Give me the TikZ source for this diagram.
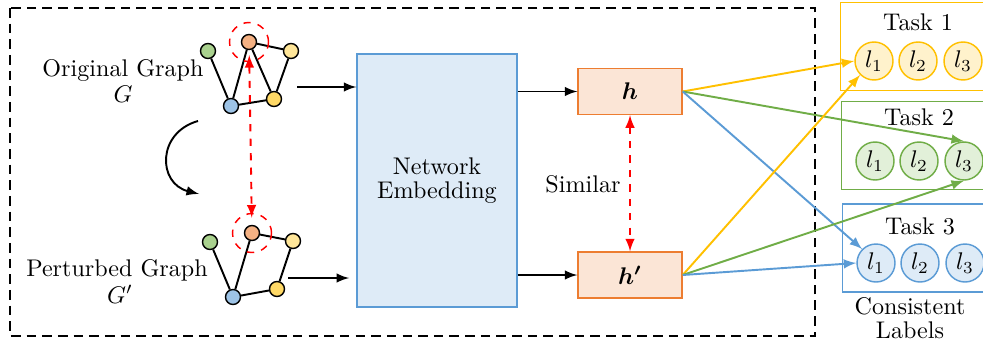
\documentclass[tikz,border=0pt]{standalone}
\usepackage{tikz}
\pgfdeclarelayer{background}
\pgfsetlayers{background,main}
\usetikzlibrary{arrows,positioning}
\usepackage{bm}
\usepackage{amsmath}
\definecolor{vGreen}{HTML}{A9D18E}
\definecolor{vOrange}{HTML}{F4B183}
\definecolor{vLight}{HTML}{FFE699}
\definecolor{vBlue}{HTML}{9DC3E6}
\definecolor{vYellow}{HTML}{FFD966}
\definecolor{embDraw}{HTML}{5B9BD5}
\definecolor{embFill}{HTML}{DEEBF7}
\definecolor{hDraw}{HTML}{ED7D31}
\definecolor{hFill}{HTML}{FBE5D6}
\definecolor{tYellow}{HTML}{FFC000}
\definecolor{tYellowFill}{HTML}{FFF2CC}
\definecolor{tGreen}{HTML}{70AD47}
\definecolor{tGreenFill}{HTML}{E2F0D9}
\definecolor{tBlue}{HTML}{5B9BD5}
\definecolor{tBlueFill}{HTML}{DEEBF7}
\newcommand{\pix}{0.415pt}
\newcommand{\Vertex}[3]% pos, name, colour
{\node[circle,draw,semithick,fill=#3,minimum size=15*\pix,inner sep=0] (#2) at (#1) {};
}
\newcommand{\Edge}[2]%
{ \begin{pgfonlayer}{background}
    \draw[thick] (#1) -- (#2);
  \end{pgfonlayer}}
\newcommand{\Label}[5]% pos, name, text, draw, fill
{\node[circle,draw=#4,fill=#5,semithick,minimum size=38*\pix,inner sep=0] (#2) at (#1) {$#3$};
}
\newcommand{\Arrow}[3]%
{ \draw[-latex,thick,#3] (#1) -- (#2);}
\tikzset{
  perturb/.style={circle,draw=red,dashed,semithick,minimum size=39*\pix,inner sep=0},
  taskbox/.style={draw=#1,semithick,minimum width=155*\pix,minimum height=88*\pix,inner sep=0},
  hbox/.style={draw=hDraw,fill=hFill,semithick,minimum width=104*\pix,minimum height=46*\pix},
  caption/.style={inner sep=1pt}
}

\begin{document}
\begin{tikzpicture}[x=\pix,y=-\pix]
  \useasboundingbox (0,0) rectangle (983,346);
  \draw[semithick,dash pattern=on 4pt off 2.5pt] (10,8) rectangle (815,336);
  % original graph
  \Vertex{208,51}{oA}{vGreen}
  \Vertex{249,42}{oO}{vOrange}
  \Vertex{291,51}{oL}{vLight}
  \Vertex{231,106}{oB}{vBlue}
  \Vertex{274,99}{oY}{vYellow}
  \Edge{oA}{oB}
  \Edge{oB}{oO}
  \Edge{oO}{oL}
  \Edge{oO}{oY}
  \Edge{oL}{oY}
  \Edge{oB}{oY}
  \node[perturb] (oR) at (oO) {};
  \node[caption] (oName) at (123,70) {Original Graph};
  \node[caption] (oSym) at (123,94) {$G$};
  % perturbed graph
  \Vertex{210,242}{pA}{vGreen}
  \Vertex{252,233}{pO}{vOrange}
  \Vertex{293,241}{pL}{vLight}
  \Vertex{233,297}{pB}{vBlue}
  \Vertex{277,289}{pY}{vYellow}
  \Edge{pA}{pB}
  \Edge{pB}{pO}
  \Edge{pO}{pL}
  \Edge{pL}{pY}
  \Edge{pB}{pY}
  \node[perturb] (pR) at (pO) {};
  \node[caption] (pName) at (117,270) {Perturbed Graph};
  \node[caption] (pSym) at (120,294) {$G'$};
  \draw[latex-latex,red,dashed,thick,shorten <=2pt,shorten >=3pt] (oO) -- (pO);
  \coordinate (bendA) at (198,121);
  \coordinate (bendB) at (199,194);
  \draw[-latex,thick] (bendA) to[bend right=75,looseness=1.5] (bendB);
  % embedding
  \node[draw=embDraw,fill=embFill,semithick,minimum width=160*\pix,minimum height=253*\pix,align=center]
    (emb) at (437,180.5) {Network\\[-2pt]Embedding};
  \coordinate (oOut) at (297,87);
  \coordinate (pOut) at (288,278);
  \Arrow{oOut}{oOut -| emb.west}{black}
  \draw[-latex,thick,shorten >=3pt] (pOut) -- (pOut -| emb.west);
  \node[hbox] (h) at (630,91.5) {$\bm{h}$};
  \node[hbox] (hp) at (630,275) {$\bm{h'}$};
  \Arrow{h.west -| emb.east}{h.west}{black}
  \Arrow{hp.west -| emb.east}{hp.west}{black}
  \draw[latex-latex,red,dashed,thick] (h) -- (hp);
  \node (sim) at (583,184) {Similar};
  % tasks
  \node[taskbox=tYellow] (t1) at (918,46.5) {};
  \node[taskbox=tGreen] (t2) at (919,145.5) {};
  \node[taskbox=tBlue] (t3) at (920,248) {};
  \node (t1name) at (918,22) {Task 1};
  \node (t2name) at (919,117) {Task 2};
  \node (t3name) at (920,226) {Task 3};
  \Label{874,61}{l11}{l_1}{tYellow}{tYellowFill}
  \Label{918,61}{l12}{l_2}{tYellow}{tYellowFill}
  \Label{963,61}{l13}{l_3}{tYellow}{tYellowFill}
  \Label{875,161}{l21}{l_1}{tGreen}{tGreenFill}
  \Label{919,161}{l22}{l_2}{tGreen}{tGreenFill}
  \Label{964,161}{l23}{l_3}{tGreen}{tGreenFill}
  \Label{876,263}{l31}{l_1}{tBlue}{tBlueFill}
  \Label{920,263}{l32}{l_2}{tBlue}{tBlueFill}
  \Label{965,263}{l33}{l_3}{tBlue}{tBlueFill}
  \node (cons) at (910,306) {Consistent};
  \node (labs) at (910,330) {Labels};
  \Arrow{h.east}{l11.west}{tYellow}
  \Arrow{h.east}{l23.north}{tGreen}
  \Arrow{h.east}{l31.north west}{tBlue}
  \Arrow{hp.east}{l11.south west}{tYellow}
  \Arrow{hp.east}{l23.south}{tGreen}
  \Arrow{hp.east}{l31.west}{tBlue}
\end{tikzpicture}
\end{document}
